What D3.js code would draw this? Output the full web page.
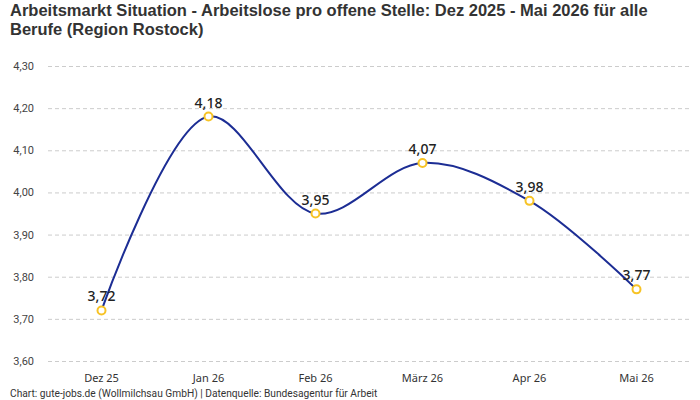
<!DOCTYPE html>
<html><head><meta charset="utf-8">
<script src="https://cdn.jsdelivr.net/npm/d3@7"></script>
<style>body{margin:0;background:#fff}svg{display:block}</style>
</head><body>
<svg id="c" width="700" height="400"></svg>
<script>
const categories = ["Dez 25","Jan 26","Feb 26","März 26","Apr 26","Mai 26"];
const values = [3.72, 4.18, 3.95, 4.07, 3.98, 3.77];
const yTicks = [3.6,3.7,3.8,3.9,4.0,4.1,4.2,4.3];
const title = ["Arbeitsmarkt Situation - Arbeitslose pro offene Stelle: Dez 2025 - Mai 2026 für alle","Berufe (Region Rostock)"];
const source = "Chart: gute-jobs.de (Wollmilchsau GmbH) | Datenquelle: Bundesagentur für Arbeit";

const svg = d3.select("#c");
const L=48, R=690, T=66, B=361;
const fmt = v => d3.format(".2f")(v).replace(".", ",");
const x = d3.scaleBand().domain(categories).range([L,R]);
const y = d3.scaleLinear().domain([3.6,4.3]).range([B,T]);

const tt = svg.append("g").selectAll("text").data(title).join("text")
  .attr("x",10).attr("y",(d,i)=>16+i*19)
  .attr("font-family","'Liberation Sans', Arial, sans-serif").attr("font-weight","bold")
  .attr("font-size",16).attr("fill","#333").text(d=>d);
const w0 = tt.node().getComputedTextLength();
const fs = Math.min(16.5, 16*662/w0);
tt.attr("font-size",fs);

const ya = svg.append("g").attr("transform",`translate(${L},0)`)
  .call(d3.axisLeft(y).tickValues(yTicks).tickFormat(fmt).tickSize(-(R-L)).tickPadding(14));
ya.select(".domain").remove();
ya.selectAll("line").attr("stroke","#ccc").attr("stroke-dasharray","4,3");
ya.selectAll("text").attr("font-family","Roboto, sans-serif").attr("font-size",11).attr("fill","#444");

const xa = svg.append("g").attr("transform",`translate(0,${B})`)
  .call(d3.axisBottom(x).tickSize(0).tickPadding(13));
xa.select(".domain").remove();
xa.selectAll("text").attr("font-family","'Noto Sans', sans-serif").attr("font-size",11).attr("fill","#333");

const pts = categories.map((c,i)=>[x(c)+x.bandwidth()/2, y(values[i])]);
svg.append("path").datum(pts)
  .attr("d", d3.line().curve(d3.curveCatmullRom.alpha(0.5)))
  .attr("fill","none").attr("stroke","#1c2d94").attr("stroke-width",2);

svg.append("g").selectAll("circle").data(pts).join("circle")
  .attr("cx",d=>d[0]).attr("cy",d=>d[1]).attr("r",4)
  .attr("fill","#fff").attr("stroke","#f7c325").attr("stroke-width",2);

svg.append("g").selectAll("text").data(pts).join("text")
  .attr("x",d=>d[0]).attr("y",d=>d[1]-9).attr("text-anchor","middle")
  .attr("font-family","'Noto Sans', sans-serif").attr("font-size",14).attr("font-weight",500)
  .attr("fill","#222").text((d,i)=>fmt(values[i]));

svg.append("text").attr("x",10).attr("y",397)
  .attr("font-family","Roboto, sans-serif").attr("font-size",10.2).attr("fill","#333").text(source);
</script>
</body></html>
